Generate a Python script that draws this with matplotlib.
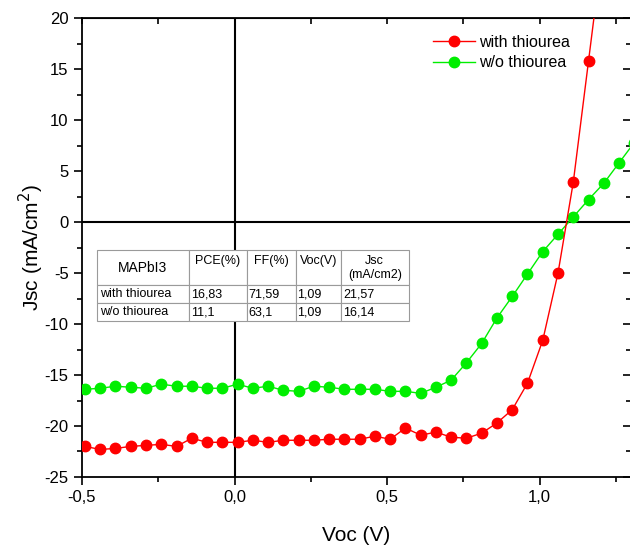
import numpy as np
import matplotlib
matplotlib.use("Agg")
import matplotlib.pyplot as plt
from matplotlib.ticker import MultipleLocator, FuncFormatter

plt.rcParams['font.family'] = ['Liberation Sans', 'DejaVu Sans']
plt.rcParams['axes.unicode_minus'] = False

# J-V data (V in volts, J in mA/cm2)
v_with = [-0.49, -0.44, -0.39, -0.34, -0.29, -0.24, -0.19, -0.14, -0.09, -0.04,
          0.01, 0.06, 0.11, 0.16, 0.21, 0.26, 0.31, 0.36, 0.41, 0.46,
          0.51, 0.56, 0.61, 0.66, 0.71, 0.76, 0.81, 0.86, 0.91, 0.96,
          1.01, 1.06, 1.11, 1.16, 1.21]
j_with = [-22.0, -22.3, -22.2, -22.0, -21.9, -21.8, -22.0, -21.2, -21.6, -21.6,
          -21.6, -21.4, -21.6, -21.4, -21.4, -21.4, -21.3, -21.3, -21.3, -21.0,
          -21.3, -20.2, -20.9, -20.6, -21.1, -21.2, -20.7, -19.7, -18.4, -15.8,
          -11.6, -5.0, 3.9, 15.8, 27.7]

v_wo = [-0.49, -0.44, -0.39, -0.34, -0.29, -0.24, -0.19, -0.14, -0.09, -0.04,
        0.01, 0.06, 0.11, 0.16, 0.21, 0.26, 0.31, 0.36, 0.41, 0.46,
        0.51, 0.56, 0.61, 0.66, 0.71, 0.76, 0.81, 0.86, 0.91, 0.96,
        1.01, 1.06, 1.11, 1.16, 1.21, 1.26, 1.31]
j_wo = [-16.4, -16.3, -16.1, -16.2, -16.3, -15.9, -16.1, -16.1, -16.3, -16.3,
        -15.9, -16.3, -16.1, -16.5, -16.6, -16.1, -16.2, -16.4, -16.4, -16.4,
        -16.6, -16.6, -16.8, -16.2, -15.5, -13.8, -11.9, -9.4, -7.3, -5.1,
        -2.9, -1.2, 0.5, 2.2, 3.8, 5.8, 7.8]

# photovoltaic parameters table
table_cols = ['MAPbI3', 'PCE(%)', 'FF(%)', 'Voc(V)', 'Jsc\n(mA/cm2)']
table_rows = [['with thiourea', '16,83', '71,59', '1,09', '21,57'],
              ['w/o thiourea', '11,1', '63,1', '1,09', '16,14']]

fig = plt.figure(figsize=(6.3, 5.45), dpi=100)
ax = fig.add_axes([0.130, 0.1248, 0.872, 0.842])

ax.plot(v_with, j_with, color='#ff0000', lw=1, marker='o', ms=7.5,
        mec='#ff0000', label='with thiourea', zorder=4)
ax.plot(v_wo, j_wo, color='#00ee00', lw=1, marker='o', ms=7.5,
        mec='#00ee00', label='w/o thiourea', zorder=3)

# zero lines
ax.axhline(0, color='black', lw=1.5, zorder=2)
ax.axvline(0, color='black', lw=1.5, zorder=2)

ax.set_xlim(-0.5, 1.3)
ax.set_ylim(-25, 20)
ax.xaxis.set_major_locator(MultipleLocator(0.5))
ax.xaxis.set_minor_locator(MultipleLocator(0.25))
ax.yaxis.set_major_locator(MultipleLocator(5))
ax.yaxis.set_minor_locator(MultipleLocator(2.5))
ax.xaxis.set_major_formatter(FuncFormatter(lambda x, p: ('%.1f' % x).replace('.', ',')))
ax.yaxis.set_major_formatter(FuncFormatter(lambda y, p: '%d' % y))

ax.tick_params(which='both', direction='out', labelsize=12, width=1.2, top=False, right=False)
ax.tick_params(which='major', length=6)
ax.tick_params(which='minor', length=3.5)
for spine in ax.spines.values():
    spine.set_linewidth(1.3)

# ticks on top / right pointing inward
secx = ax.secondary_xaxis('top')
secx.xaxis.set_major_locator(MultipleLocator(0.25))
secx.tick_params(direction='in', length=4, width=1.2, labeltop=False)
secy = ax.secondary_yaxis('right')
secy.yaxis.set_major_locator(MultipleLocator(5))
secy.yaxis.set_minor_locator(MultipleLocator(2.5))
secy.tick_params(which='both', direction='in', width=1.2, labelright=False)
secy.tick_params(which='major', length=6)
secy.tick_params(which='minor', length=3.5)

ax.set_xlabel('Voc (V)', fontsize=15, labelpad=15)
ax.set_ylabel('Jsc (mA/cm$^2$)', fontsize=15, labelpad=-1)

ax.legend(loc='upper right', bbox_to_anchor=(0.915, 0.995), frameon=False,
          fontsize=11.5, handlelength=2.6, handletextpad=0.3, labelspacing=0.35)

# inset table
cells = [table_cols] + table_rows
tbl = ax.table(cellText=cells, cellLoc='left',
               colWidths=[92, 58, 49, 45, 68],
               bbox=[0.027, 0.340, 0.568, 0.155], zorder=6)
tbl.auto_set_font_size(False)
tbl.set_fontsize(9)
for (r, c), cell in tbl.get_celld().items():
    cell.set_edgecolor('#9a9a9a')
    cell.set_linewidth(0.8)
    cell.set_facecolor('white')
    cell.PAD = 0.04
    cell.set_height(2.0 if r == 0 else 1.0)
    txt = cell.get_text()
    if r == 0:
        cell._loc = 'center'
        txt.set_ha('center')
        if c in (1, 2, 3):
            txt.set_text(cells[r][c] + '\n ')
        if c == 0:
            txt.set_fontsize(10)

fig.savefig('out.png', dpi=100)
